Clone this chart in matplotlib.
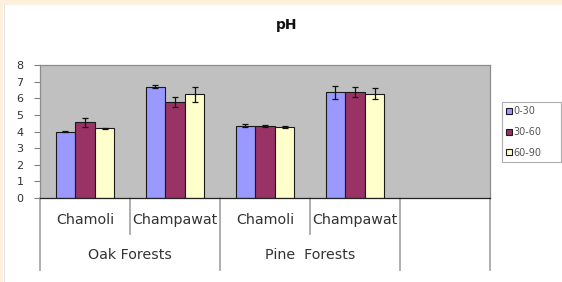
import matplotlib
matplotlib.use("Agg")
import matplotlib.pyplot as plt
from matplotlib.patches import Rectangle
from matplotlib.lines import Line2D
import numpy as np

plt.rcParams['font.family'] = ['DejaVu Sans']

title = "pH"
sites = ["Chamoli", "Champawat", "Chamoli", "Champawat"]
forests = ["Oak Forests", "Pine  Forests"]
series_names = ["0-30", "30-60", "60-90"]
vals_0_30 = [4.0, 6.7, 4.35, 6.35]
vals_30_60 = [4.55, 5.8, 4.35, 6.35]
vals_60_90 = [4.2, 6.25, 4.28, 6.28]
err_0_30 = [0.03, 0.07, 0.1, 0.4]
err_30_60 = [0.28, 0.3, 0.06, 0.3]
err_60_90 = [0.04, 0.45, 0.05, 0.35]
yticks = [0, 1, 2, 3, 4, 5, 6, 7, 8]

colors = ["#9999FF", "#993366", "#FFFFCC"]

W, H = 562, 282
fig = plt.figure(figsize=(W / 100, H / 100), dpi=100)
fig.patch.set_facecolor("white")

# cream frame strips
fig.patches.append(Rectangle((0, 1 - 5 / H), 1, 5 / H, transform=fig.transFigure,
                             facecolor="#FDF1DE", edgecolor="none", zorder=0))
fig.patches.append(Rectangle((0, 0), 3 / W, 1, transform=fig.transFigure,
                             facecolor="#FDF1DE", edgecolor="none", zorder=0))
fig.lines.append(Line2D([3.5 / W, 3.5 / W], [0, 1 - 5 / H], transform=fig.transFigure,
                        color="#E4E4E4", lw=0.8))

ax = fig.add_axes([40 / W, (H - 198) / H, 450 / W, 133 / H])
ax.set_facecolor("#C0C0C0")

x = np.arange(len(sites)) + 0.5
bw = 0.217
series = [vals_0_30, vals_30_60, vals_60_90]
errs = [err_0_30, err_30_60, err_60_90]
handles = []
for i, (v, e, c, n) in enumerate(zip(series, errs, colors, series_names)):
    b = ax.bar(x + (i - 1) * bw, v, width=bw, color=c, edgecolor="#1a1a1a",
               linewidth=0.8, yerr=e, label=n, zorder=2,
               error_kw=dict(ecolor="#111111", elinewidth=0.9, capsize=2.2, capthick=0.9))
    handles.append(b)

ax.set_xlim(0, 5)
ax.set_ylim(0, 8)
ax.set_yticks(yticks)
ax.set_xticks([])
ax.tick_params(axis="y", direction="out", length=4, width=0.8, color="#808080",
               labelsize=8, labelcolor="#333333", pad=8)
for s in ["top", "right", "left"]:
    ax.spines[s].set_color("#8C8C8C")
    ax.spines[s].set_linewidth(0.9)
ax.spines["bottom"].set_color("#222222")
ax.spines["bottom"].set_linewidth(0.9)

# multi-level category axis
tr = ax.get_xaxis_transform()
ppx = 1 / 133.0
for xv, long in [(0, True), (1, False), (2, True), (3, False), (4, True), (5, True)]:
    yb = -72 * ppx if long else -36 * ppx
    ax.add_line(Line2D([xv, xv], [0, yb], transform=tr, color="#A8A8A8",
                       lw=1.3, clip_on=False))
for xi, s in zip(x, sites):
    ax.text(xi, -22 * ppx, s, transform=tr, ha="center", va="center",
            fontsize=10.3, color="#333333")
for gi, g in enumerate(forests):
    ax.text(1 + 2 * gi, -57 * ppx, g, transform=tr, ha="center", va="center",
            fontsize=10.3, color="#333333")

fig.text(287 / W, 1 - 25 / H, title, ha="center", va="center",
         fontsize=10, fontweight="bold", color="#111111")

leg = fig.legend(handles=handles, labels=series_names, loc="upper left",
                 bbox_to_anchor=(502 / W, 1 - 162 / H, 59 / W, 60 / H),
                 bbox_transform=fig.transFigure, mode="expand",
                 fontsize=7, frameon=True, fancybox=False, handlelength=0.6,
                 handleheight=0.55, handletextpad=0.15, labelspacing=1.1,
                 borderpad=0.45, borderaxespad=0)
leg.get_frame().set_edgecolor("#9A9A9A")
leg.get_frame().set_linewidth(0.8)
for t in leg.get_texts():
    t.set_color("#555555")

fig.savefig("out.png", dpi=100)
